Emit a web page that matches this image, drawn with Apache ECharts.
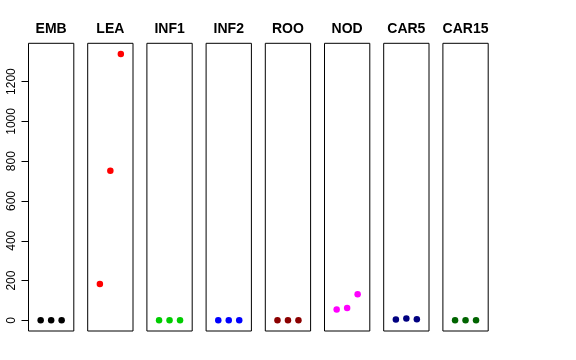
<!DOCTYPE html>
<html><head><meta charset="utf-8">
<script src="https://cdn.jsdelivr.net/npm/echarts@6/dist/echarts.min.js"></script>
<style>html,body{margin:0;padding:0;background:#fff}#c{width:576px;height:360px}</style>
</head><body><div id="c"></div>
<script>
const panels = ['EMB','LEA','INF1','INF2','ROO','NOD','CAR5','CAR15'];
const colors = ['#000000','#FF0000','#00CD00','#0000FF','#8B0000','#FF00FF','#000080','#006400'];
const xs = [1,2,3];
const EMB = [0,0,0];
const LEA = [183,752,1339];
const INF1 = [0,0,0];
const INF2 = [0,0,0];
const ROO = [0,0,0];
const NOD = [54,62,131];
const CAR5 = [4,9,5];
const CAR15 = [0,0,0];
const values = [EMB,LEA,INF1,INF2,ROO,NOD,CAR5,CAR15];
const yTicks = [0,200,400,600,800,1000,1200];

const yMin = -53.6, yMax = 1392.6;
const panelTop = 43.3, panelH = 287.7;
const pxPerUnit = panelH / (yMax - yMin);
const y0px = panelTop + (yMax - 0) * pxPerUnit;
const y1200px = panelTop + (yMax - yTicks[yTicks.length-1]) * pxPerUnit;

const grids = [], xAxes = [], yAxes = [], series = [], graphics = [];
panels.forEach((name, i) => {
  const left = 28.5 + i * 59.2;
  grids.push({left: left, top: panelTop, width: 45.3, height: panelH, show: true, borderColor: '#000', borderWidth: 1, backgroundColor: 'transparent'});
  xAxes.push({type: 'value', gridIndex: i, min: -0.16, max: 4.16, show: false});
  yAxes.push({type: 'value', gridIndex: i, min: yMin, max: yMax, show: false});
  series.push({type: 'scatter', xAxisIndex: i, yAxisIndex: i, symbolSize: 6.5,
    itemStyle: {color: colors[i], opacity: 1},
    data: xs.map((x, k) => [x, values[i][k]])});
  graphics.push({type: 'text', x: left + 45.3/2, y: 29.5,
    style: {text: name, textAlign: 'center', textVerticalAlign: 'middle',
      font: 'bold 14px "Liberation Sans"', fill: '#000'}});
});
// axis grid
const ai = panels.length;
grids.push({left: 28.5, top: y1200px, width: 1, height: y0px - y1200px, show: false});
xAxes.push({type: 'value', gridIndex: ai, min: 0, max: 1, show: false});
yAxes.push({type: 'value', gridIndex: ai, min: yTicks[0], max: yTicks[yTicks.length-1], interval: 200,
  position: 'left', axisLine: {show: true, lineStyle: {color: '#000', width: 1}},
  axisTick: {show: true, length: 7, lineStyle: {color: '#000'}},
  splitLine: {show: false},
  axisLabel: {rotate: 90, margin: 11, fontFamily: 'Liberation Sans', fontSize: 12, color: '#000',
    formatter: v => yTicks.includes(v) ? String(v) : ''}});

const chart = echarts.init(document.getElementById('c'), null, {renderer: 'canvas'});
chart.setOption({
  animation: false,
  backgroundColor: '#fff',
  grid: grids,
  xAxis: xAxes,
  yAxis: yAxes,
  series: series,
  graphic: graphics
});
</script></body></html>
